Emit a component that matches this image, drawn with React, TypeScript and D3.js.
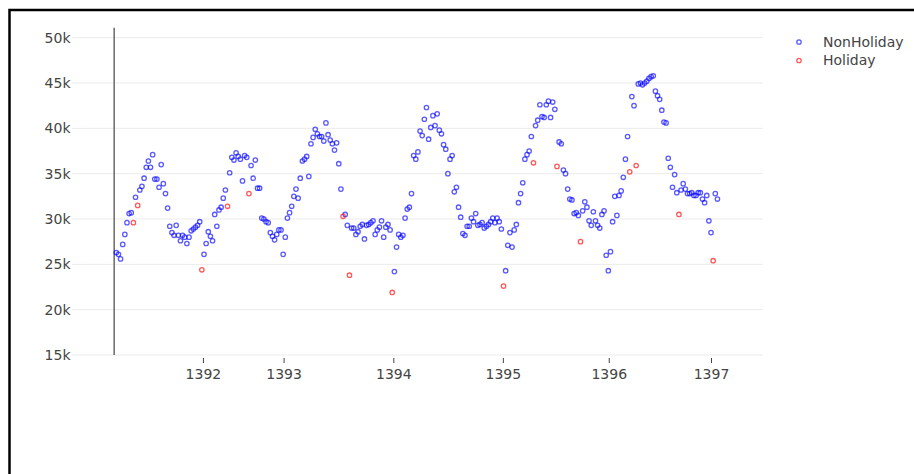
import React, { useEffect, useRef } from 'react';
import * as d3 from 'd3';

// weekly sales, in order, week 1 .. 282
const sales = [
  26300, 26100, 25600, 27200, 28300, 29600, 30600, 30700, 29600, 32400,
  31500, 33200, 33600, 34500, 35700, 36400, 35700, 37100, 34400, 34400,
  33500, 36000, 33900, 32800, 31200, 29200, 28500, 28200, 29300, 28200,
  27600, 28200, 28000, 27300, 28000, 28700, 28900, 29100, 29300, 29700,
  24400, 26100, 27300, 28600, 28100, 27600, 30500, 29200, 31000, 31300,
  32300, 33200, 31400, 35100, 36800, 36500, 37300, 36900, 36600, 34200,
  37000, 36800, 32800, 35900, 34500, 36500, 33400, 33400, 30100, 30000,
  29700, 29600, 28500, 28100, 27700, 28300, 28800, 28800, 26100, 28000,
  30100, 30700, 31400, 32500, 33300, 32300, 34500, 36400, 36600, 36900,
  34700, 38300, 39000, 39900, 39400, 39100, 39100, 38600, 40600, 39300,
  38700, 38300, 37600, 38400, 36100, 33300, 30300, 30500, 29300, 23800,
  29000, 29000, 28300, 28600, 29200, 29400, 27800, 29300, 29400, 29600,
  29800, 28300, 28800, 29100, 29800, 28000, 29100, 29400, 28800, 21900,
  24200, 26900, 28300, 28000, 28200, 30100, 31100, 31300, 32800, 37000,
  36600, 37400, 39700, 39200, 41000, 42300, 38800, 40100, 41400, 40300,
  41600, 39800, 39400, 38200, 37700, 35000, 36600, 37000, 33000, 33500,
  31300, 30200, 28400, 28200, 29200, 29200, 30100, 29700, 30600, 29300,
  29400, 29600, 29000, 29200, 29400, 29700, 30100, 29600, 30100, 29700,
  28900, 22600, 24300, 27100, 28500, 26900, 28800, 29400, 31800, 32800,
  34000, 36600, 37100, 37500, 39100, 36200, 40300, 40900, 42600, 41300,
  41200, 42600, 43000, 41200, 42900, 42100, 35800, 38500, 38300, 35400,
  35000, 33300, 32200, 32100, 30600, 30700, 30400, 27500, 30900, 31900,
  31300, 29800, 29300, 30800, 29800, 29300, 29000, 30500, 30900, 26000,
  24300, 26400, 29700, 32500, 30400, 32600, 33100, 34600, 36600, 39100,
  35200, 43500, 42500, 35900, 44900, 45000, 44800, 45000, 45200, 45500,
  45700, 45800, 44100, 43600, 43200, 42000, 40700, 40600, 36700, 35700,
  33500, 34900, 32900, 30500, 33200, 33900, 33300, 32800, 32800, 32900,
  32600, 32600, 32900, 32900, 32200, 31800, 32600, 29800, 28500, 25400,
  32800, 32200,
];

// weeks that contain a holiday
const holidayWeeks = [9, 11, 41, 53, 63, 107, 110, 130, 182, 196, 207, 218, 241, 244, 264, 280];

const yearTicks = [41.5, 79.2, 130.5, 181.7, 231.2, 279];
const yearLabels = ['1392', '1393', '1394', '1395', '1396', '1397'];
const salesTicks = [15000, 20000, 25000, 30000, 35000, 40000, 45000, 50000];

const seriesNames = ['NonHoliday', 'Holiday'];
const seriesColors = ['#0000ff', '#ff0000'];

const FONT = '"DejaVu Sans", Verdana, sans-serif';

const SalesScatter = () => {
  const svgRef = useRef<SVGSVGElement>(null);

  useEffect(() => {
    const svg = d3.select(svgRef.current);
    svg.selectAll('*').remove();

    const plot = { left: 72, right: 763, top: 27.7, bottom: 355 };

    const xScale = d3.scaleLinear().domain([-19.7, 303.3]).range([plot.left, plot.right]);
    const yScale = d3.scaleLinear().domain([15000, 51100]).range([plot.bottom, plot.top]);

    const points = sales.map((v, i) => ({
      week: i + 1,
      value: v,
      holiday: holidayWeeks.includes(i + 1),
    }));

    // horizontal grid
    svg.append('g')
      .selectAll('line')
      .data(salesTicks)
      .join('line')
      .attr('x1', plot.left)
      .attr('x2', plot.right)
      .attr('y1', (d) => yScale(d))
      .attr('y2', (d) => yScale(d))
      .attr('stroke', '#ebebeb')
      .attr('stroke-width', 1);

    // zero line
    svg.append('line')
      .attr('x1', xScale(0))
      .attr('x2', xScale(0))
      .attr('y1', plot.top)
      .attr('y2', plot.bottom)
      .attr('stroke', '#444')
      .attr('stroke-width', 1.2);

    // markers
    seriesNames.forEach((name, k) => {
      const subset = points.filter((p) => (k === 1 ? p.holiday : !p.holiday));
      svg.append('g')
        .attr('class', name)
        .selectAll('circle')
        .data(subset)
        .join('circle')
        .attr('cx', (d) => xScale(d.week))
        .attr('cy', (d) => yScale(d.value))
        .attr('r', 2.2)
        .attr('fill', 'none')
        .attr('stroke', seriesColors[k])
        .attr('stroke-opacity', 0.65)
        .attr('stroke-width', 1.3);
    });

    // y axis labels
    const yAxis = svg.append('g')
      .attr('transform', `translate(${plot.left},0)`)
      .call(d3.axisLeft(yScale).tickValues(salesTicks).tickSize(0).tickPadding(1.5)
        .tickFormat((d) => `${+d / 1000}k`));
    yAxis.select('.domain').remove();
    yAxis.selectAll('text')
      .style('font-family', FONT)
      .style('font-size', '14px')
      .attr('fill', '#444');

    // x axis
    const xAxis = svg.append('g')
      .attr('transform', `translate(0,${plot.bottom + 3})`)
      .call(d3.axisBottom(xScale).tickValues(yearTicks).tickSize(5).tickPadding(6)
        .tickFormat((d, i) => yearLabels[i]));
    xAxis.select('.domain').remove();
    xAxis.selectAll('line').attr('stroke', '#444');
    xAxis.selectAll('text')
      .style('font-family', FONT)
      .style('font-size', '14px')
      .attr('fill', '#444');

    // legend
    const legend = svg.selectAll('.legend')
      .data(seriesNames)
      .enter()
      .append('g')
      .attr('class', 'legend')
      .attr('transform', (d, i) => `translate(799, ${42 + i * 18.5})`);

    legend.append('circle')
      .attr('r', 2.2)
      .attr('fill', 'none')
      .attr('stroke', (d, i) => seriesColors[i])
      .attr('stroke-opacity', 0.65)
      .attr('stroke-width', 1.3);

    legend.append('text')
      .text((d) => d)
      .attr('x', 24)
      .attr('dy', '0.35em')
      .style('font-family', FONT)
      .style('font-size', '14px')
      .attr('fill', '#444');

    // frame
    svg.append('path')
      .attr('d', 'M9.5,474 V10 H914')
      .attr('fill', 'none')
      .attr('stroke', '#000')
      .attr('stroke-width', 2.5);
  }, []);

  return (
    <svg
      ref={svgRef}
      width={914}
      height={474}
      style={{ position: 'absolute', left: 0, top: 0, background: '#fff' }}
    />
  );
};

export default function App() {
  return <SalesScatter />;
}
